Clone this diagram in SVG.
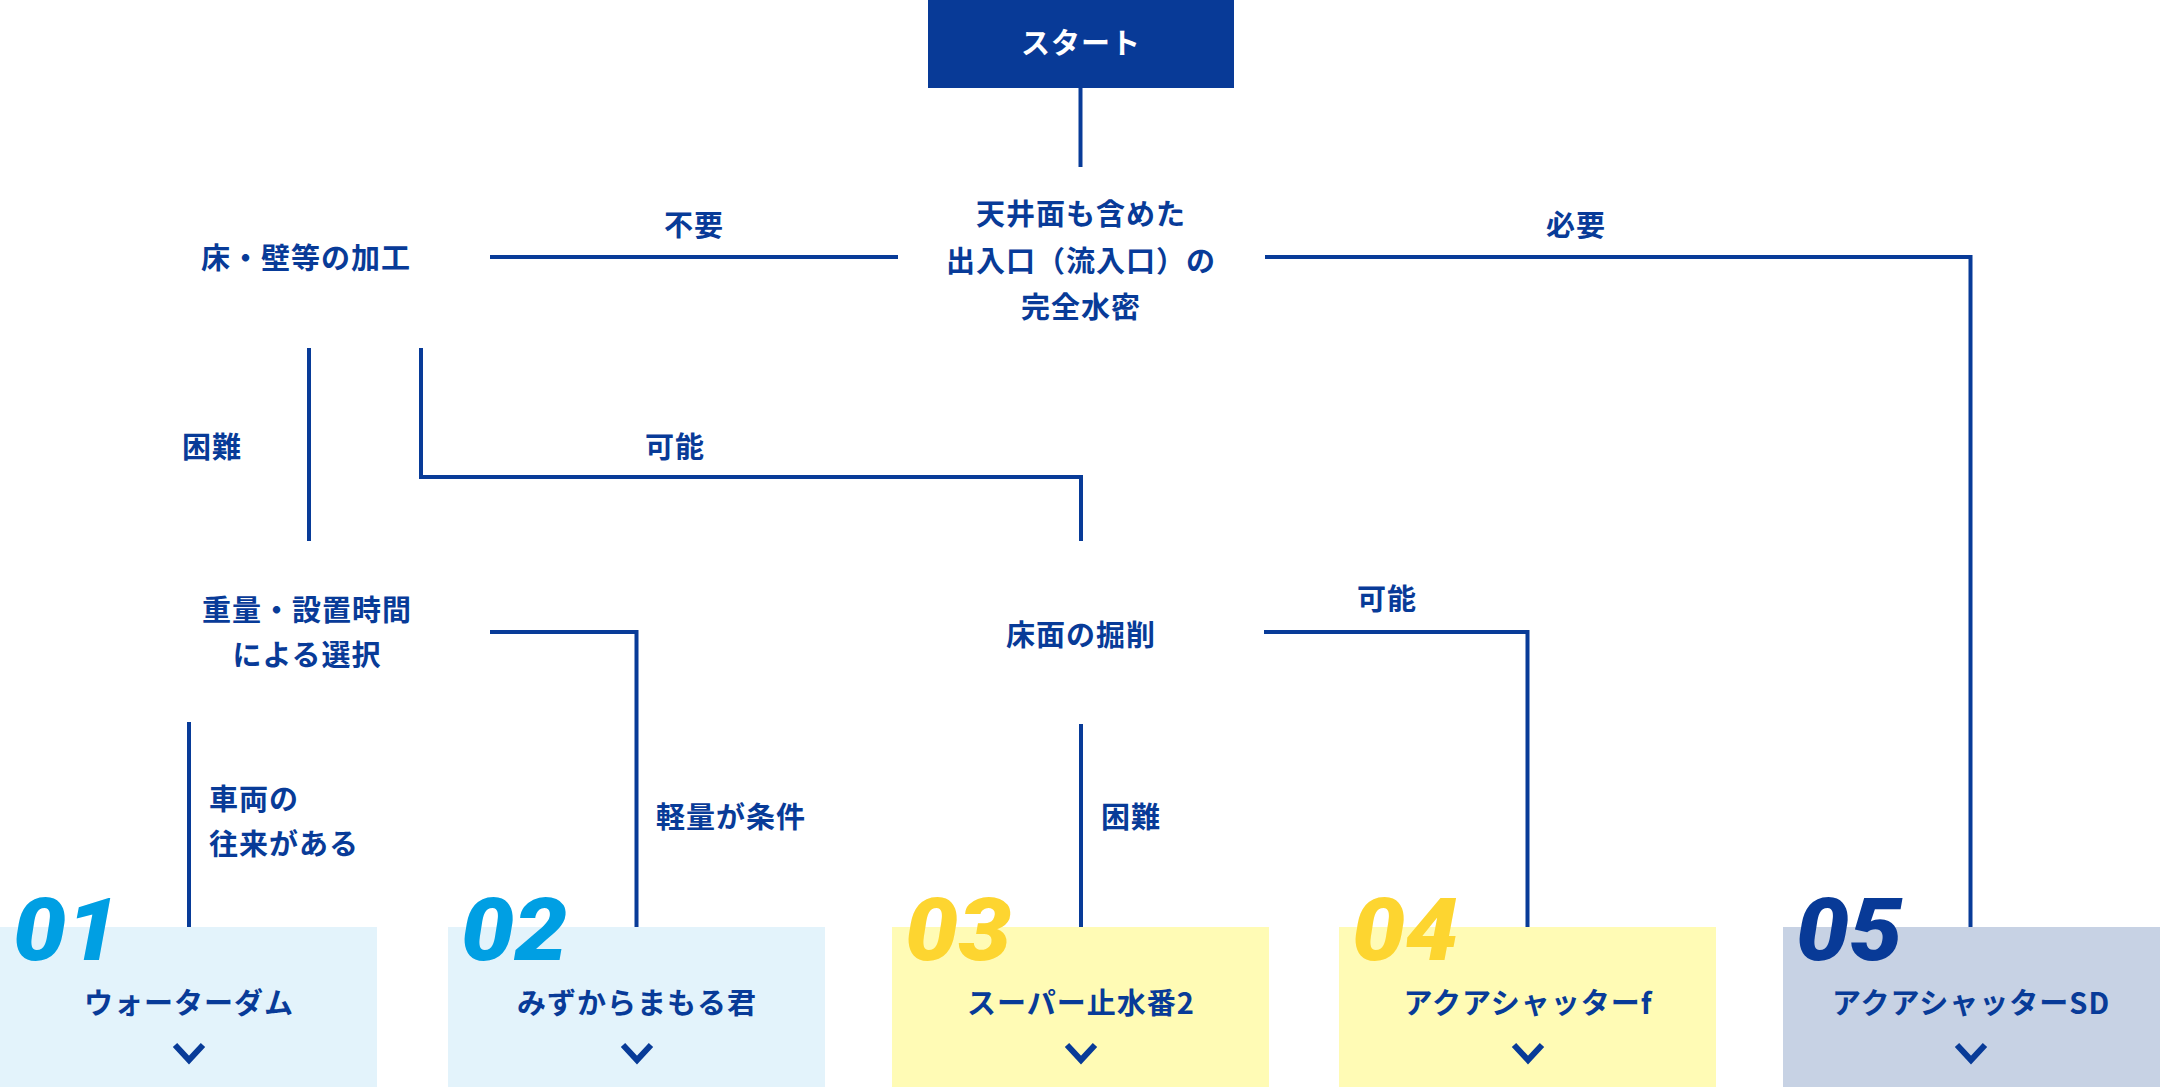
<svg xmlns="http://www.w3.org/2000/svg" width="2160" height="1087" viewBox="0 0 2160 1087">
<style>
.t{font-family:"Noto Sans CJK JP","Noto Sans",sans-serif;font-weight:700;font-size:29px;fill:#083b98;letter-spacing:1px}
.c{text-anchor:middle}
.ln{fill:none;stroke:#083b98;stroke-width:4}
.num{font-family:Roboto,"Liberation Sans",sans-serif;font-weight:900;font-style:italic;font-size:86px;letter-spacing:0px}
.chev{fill:none;stroke:#083b98;stroke-width:6}
</style>
<rect width="2160" height="1087" fill="#ffffff"/>
<g id="connectors">
<path class="ln" d="M1080.5 87 V167"/>
<path class="ln" d="M898 257 H490"/>
<path class="ln" d="M1265 257 H1970.5 V927"/>
<path class="ln" d="M309 348 V541"/>
<path class="ln" d="M421 348 V477 H1081 V541"/>
<path class="ln" d="M490 632 H636.5 V927"/>
<path class="ln" d="M189 722 V927"/>
<path class="ln" d="M1081 724 V927"/>
<path class="ln" d="M1264 632 H1527.5 V927"/>
<text class="t c" x="694" y="236">不要</text>
<text class="t c" x="1576" y="236">必要</text>
<text class="t c" x="212" y="458">困難</text>
<text class="t c" x="675" y="458">可能</text>
<text class="t" x="209" y="810">車両の</text>
<text class="t" x="209" y="855">往来がある</text>
<text class="t" x="656" y="828">軽量が条件</text>
<text class="t" x="1101" y="828">困難</text>
<text class="t c" x="1387" y="610">可能</text>
</g>
<g id="start">
<rect x="928" y="0" width="306" height="88" fill="#083a97"/>
<text class="t c" x="1081" y="54" style="fill:#ffffff">スタート</text>
</g>
<g id="q1">
<text class="t c" x="1081" y="225">天井面も含めた</text>
<text class="t c" x="1081" y="272">出入口（流入口）の</text>
<text class="t c" x="1081" y="318">完全水密</text>
</g>
<g id="q2">
<text class="t c" x="306" y="269">床・壁等の加工</text>
</g>
<g id="q3">
<text class="t c" x="307" y="621">重量・設置時間</text>
<text class="t c" x="307" y="666">による選択</text>
</g>
<g id="q4">
<text class="t c" x="1081" y="646">床面の掘削</text>
</g>
<g id="r1">
<rect x="0" y="927" width="377" height="160" fill="#e3f3fb"/>
<text class="num" transform="translate(13,960) scale(1.1,1)" fill="#009fe3">01</text>
<text class="t c" x="189" y="1014">ウォーターダム</text>
<polyline class="chev" points="175,1045 189,1060 203,1045"/>
</g>
<g id="r2">
<rect x="448" y="927" width="377" height="160" fill="#e3f3fb"/>
<text class="num" transform="translate(461,960) scale(1.1,1)" fill="#009fe3">02</text>
<text class="t c" x="637" y="1014">みずからまもる君</text>
<polyline class="chev" points="623,1045 637,1060 651,1045"/>
</g>
<g id="r3">
<rect x="892" y="927" width="377" height="160" fill="#fffbb5"/>
<text class="num" transform="translate(905,960) scale(1.1,1)" fill="#fdd530">03</text>
<text class="t c" x="1081" y="1014">スーパー止水番2</text>
<polyline class="chev" points="1067,1045 1081,1060 1095,1045"/>
</g>
<g id="r4">
<rect x="1339" y="927" width="377" height="160" fill="#fffbb5"/>
<text class="num" transform="translate(1352,960) scale(1.1,1)" fill="#fdd530">04</text>
<text class="t c" x="1528" y="1014">アクアシャッターf</text>
<polyline class="chev" points="1514,1045 1528,1060 1542,1045"/>
</g>
<g id="r5">
<rect x="1783" y="927" width="377" height="160" fill="#c7d2e4"/>
<text class="num" transform="translate(1796,960) scale(1.1,1)" fill="#083a97">05</text>
<text class="t c" x="1971" y="1014">アクアシャッターSD</text>
<polyline class="chev" points="1957,1045 1971,1060 1985,1045"/>
</g>
</svg>
